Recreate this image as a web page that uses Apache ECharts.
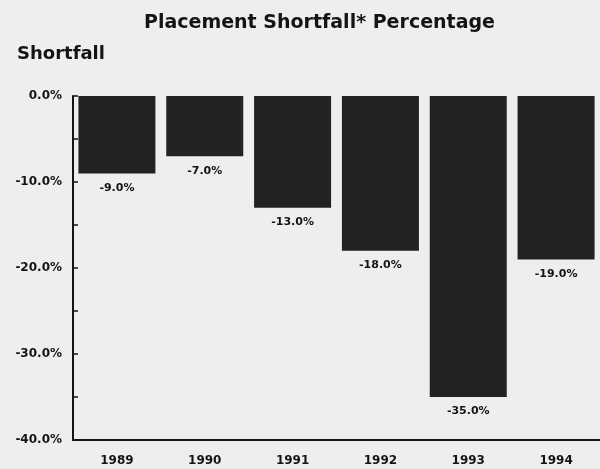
<!DOCTYPE html>
<html>
<head>
<meta charset="utf-8">
<script src="https://cdn.jsdelivr.net/npm/echarts@6/dist/echarts.min.js"></script>
<style>
html, body { margin: 0; padding: 0; background: #eeeeec; }
#chart { width: 600px; height: 469px; }
</style>
</head>
<body>
<div id="chart"></div>
<script>
var years = ['1989', '1990', '1991', '1992', '1993', '1994'];
var shortfall = [-9.0, -7.0, -13.0, -18.0, -35.0, -19.0];

var font = '"DejaVu Sans", "Liberation Sans", sans-serif';
var chart = echarts.init(document.getElementById('chart'));
chart.setOption({
    backgroundColor: '#eeeeec',
    animation: false,
    title: [{
        text: 'Placement Shortfall* Percentage',
        left: 139, top: 9,
        textStyle: { fontFamily: font, fontSize: 19, fontWeight: 'bold', color: '#141414' }
    }, {
        text: 'Shortfall',
        left: 12, top: 40,
        textStyle: { fontFamily: font, fontSize: 18, fontWeight: 'bold', color: '#141414' }
    }],
    grid: { left: 73, top: 96, width: 534, height: 344 },
    xAxis: {
        type: 'category',
        data: years,
        position: 'bottom',
        axisLine: { onZero: false, lineStyle: { color: '#141414', width: 2 } },
        axisTick: { show: false },
        axisLabel: { margin: 15, fontFamily: font, fontSize: 12, fontWeight: 'bold', color: '#141414' }
    },
    yAxis: {
        type: 'value',
        min: -40, max: 0, interval: 5,
        axisLine: { show: true, lineStyle: { color: '#141414', width: 2 } },
        axisTick: { show: true, inside: true, length: 5, lineStyle: { color: '#141414', width: 1.5 } },
        splitLine: { show: false },
        axisLabel: {
            margin: 11,
            fontFamily: font, fontSize: 12, fontWeight: 'bold', color: '#141414',
            formatter: function (v) { return v % 10 === 0 ? v.toFixed(1) + '%' : ''; }
        }
    },
    series: [{
        type: 'bar',
        data: shortfall,
        barWidth: 77,
        itemStyle: { color: '#222222' },
        label: {
            show: true,
            position: 'bottom',
            distance: 9,
            fontFamily: font, fontSize: 11, fontWeight: 'bold', color: '#141414',
            formatter: function (p) { return p.value.toFixed(1) + '%'; }
        }
    }]
});
</script>
</body>
</html>
